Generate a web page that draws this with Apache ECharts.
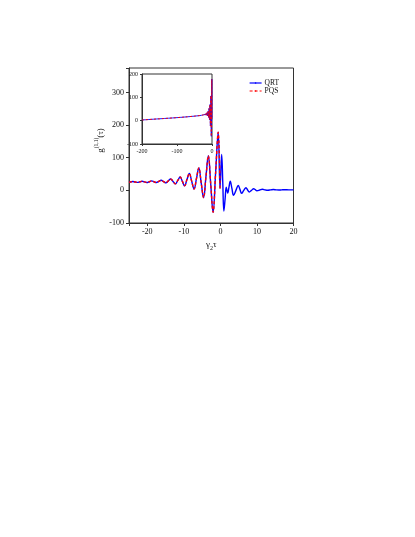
<!DOCTYPE html>
<html lang="en">

<head>
	<meta charset="UTF-8">
	<title>g(1,1)</title>
	<script src="https://cdn.jsdelivr.net/npm/echarts@6/dist/echarts.min.js"></script>
	<style>
		* {
			margin: 0;
			padding: 0;
		}

		body,
		html {
			background: #fff;
		}

		#main {
			width: 415px;
			height: 537px;
		}
	</style>
</head>

<body>
	<div id="main"></div>
	<script>
		// gamma2*tau < 0, shared by QRT and PQS (PQS stops here)
		const negX = [-25, -24.5, -24.0, -23.35, -22.7, -22.05, -21.4, -20.75, -20.1, -19.45, -18.8, -18.15, -17.5,
			-16.85, -16.2, -15.55, -14.9, -14.25, -13.6, -12.95, -12.3, -11.65, -11.0, -10.4, -9.8, -9.15, -8.5,
			-7.85, -7.2, -6.55, -5.9, -5.25, -4.6, -3.95, -3.3, -2.65, -2.0, -1.3, -0.6, -0.1];
		const negY = [25, 26, 27, 25.8, 24.5, 26.2, 28, 26, 24, 26.5, 29, 26.5, 24,
			27.5, 31, 27, 23, 29, 35, 27.5, 20, 30.5, 41, 27.5, 14, 33, 52,
			28, 4, 36, 69, 23, -22, 42, 106, 20, -67, 55, 178, 6];

		// QRT only, gamma2*tau > 0
		const posX = [0.35, 0.65, 0.95, 1.3, 1.6, 2.0, 2.35, 2.7, 3.15, 3.6, 4.25, 4.9, 5.35, 5.8, 6.4, 7.0,
			7.45, 7.9, 8.5, 9.1, 9.55, 10.0, 10.75, 11.5, 12.25, 13.0, 13.75, 14.5, 15.25, 16.0, 16.75, 17.5,
			18.75, 20];
		const posY = [110, 25, -63, -25, 10, -8, 10, 28, 6, -15, 0, 15, 3, -9, 0, 8,
			1, -5, 0, 5, 2, -1, 1, 3.5, 1.5, 0.5, 1.5, 2.5, 1.5, 1, 1.5, 2,
			1.5, 1.5];

		// inset: long tail before -25
		const tailX = [-200, -150, -100, -60, -40, -30];
		const tailY = [3, 8, 13, 18, 21, 23];

		const mainXTicks = [-20, -10, 0, 10, 20];
		const mainYTicks = [-100, 0, 100, 200, 300];

		function zip(xs, ys) {
			return xs.map((x, i) => [x, ys[i]]);
		}

		const font = "'Liberation Serif', 'Times New Roman', serif";
		const axisColor = '#333';

		const chart = echarts.init(document.getElementById('main'));

		function axisBase(size, tick) {
			return {
				axisLine: { onZero: false, lineStyle: { color: axisColor, width: 1 } },
				axisTick: { inside: false, length: tick, lineStyle: { color: axisColor } },
				splitLine: { show: false },
				axisLabel: { color: '#111', fontSize: size, fontFamily: font, margin: tick + 2 }
			};
		}

		const mx = axisBase(8, 3);
		mx.axisLabel.formatter = v => mainXTicks.includes(v) ? String(v) : '';
		const my = axisBase(8, 3);
		my.axisLabel.formatter = v => mainYTicks.includes(v) ? String(v) : '';
		const ix = axisBase(6, 2);
		const iy = axisBase(6, 2);

		const option = {
			backgroundColor: '#fff',
			animation: false,
			textStyle: { fontFamily: font },
			legend: {
				data: ['QRT', 'PQS'],
				orient: 'vertical',
				left: 244,
				top: 74,
				itemWidth: 12,
				itemHeight: 2,
				itemGap: 0,
				lineStyle: { width: 1.2 },
				textStyle: { fontSize: 7.5, color: '#111', fontFamily: font, padding: [0, 0, 0, -2] }
			},
			grid: [{
				left: 129,
				right: 121.5,
				top: 68,
				bottom: 314,
				show: true,
				borderColor: axisColor,
				borderWidth: 1
			}, {
				left: 142,
				right: 203,
				top: 74,
				bottom: 393,
				show: true,
				borderColor: axisColor,
				borderWidth: 1,
				backgroundColor: '#fff'
			}],
			xAxis: [Object.assign(mx, {
				type: 'value',
				gridIndex: 0,
				min: -25,
				max: 20,
				splitNumber: 5,
				name: '{a|γ}{s|2}{a|τ}',
				nameLocation: 'middle',
				nameGap: 17,
				nameTextStyle: {
					rich: {
						a: { fontSize: 9, fontFamily: font, color: '#111', lineHeight: 11, verticalAlign: 'top' },
						s: { fontSize: 6, fontFamily: font, color: '#111', lineHeight: 11, verticalAlign: 'bottom' }
					}
				}
			}), Object.assign(ix, {
				type: 'value',
				gridIndex: 1,
				min: -200,
				max: 0,
				interval: 100
			})],
			yAxis: [Object.assign(my, {
				type: 'value',
				gridIndex: 0,
				min: -100,
				max: 375,
				interval: 100,
				name: '{a|g}{s|(1,1)}{a|(τ)}',
				nameLocation: 'middle',
				nameRotate: 90,
				nameGap: 21,
				nameTextStyle: {
					padding: [0, 0, 0, 10],
					rich: {
						a: { fontSize: 9, fontFamily: font, color: '#111', lineHeight: 12, verticalAlign: 'bottom' },
						s: { fontSize: 5.5, fontFamily: font, color: '#111', lineHeight: 12, verticalAlign: 'top' }
					}
				}
			}), Object.assign(iy, {
				type: 'value',
				gridIndex: 1,
				min: -100,
				max: 200,
				interval: 100
			})],
			series: [{
				name: 'QRT',
				type: 'line',
				xAxisIndex: 0,
				yAxisIndex: 0,
				symbol: 'none',
				smooth: 0.4,
				data: zip(negX.concat(posX), negY.concat(posY)),
				lineStyle: { color: '#0000ff', width: 1.4 },
				itemStyle: { color: '#0000ff' }
			}, {
				name: 'PQS',
				type: 'line',
				xAxisIndex: 0,
				yAxisIndex: 0,
				symbol: 'none',
				smooth: 0.4,
				data: zip(negX, negY),
				lineStyle: { color: '#ff0000', width: 1.4, type: [3, 2] },
				itemStyle: { color: '#ff0000' }
			}, {
				name: 'QRT',
				type: 'line',
				xAxisIndex: 1,
				yAxisIndex: 1,
				symbol: 'none',
				smooth: 0.4,
				z: 5,
				data: zip(tailX.concat(negX), tailY.concat(negY)),
				lineStyle: { color: '#0000ff', width: 0.9 }
			}, {
				name: 'PQS',
				type: 'line',
				xAxisIndex: 1,
				yAxisIndex: 1,
				symbol: 'none',
				smooth: 0.4,
				z: 5,
				data: zip(tailX.concat(negX), tailY.concat(negY)),
				lineStyle: { color: '#ff0000', width: 0.9, type: [2, 2] }
			}]
		};

		chart.setOption(option);
	</script>
</body>

</html>
